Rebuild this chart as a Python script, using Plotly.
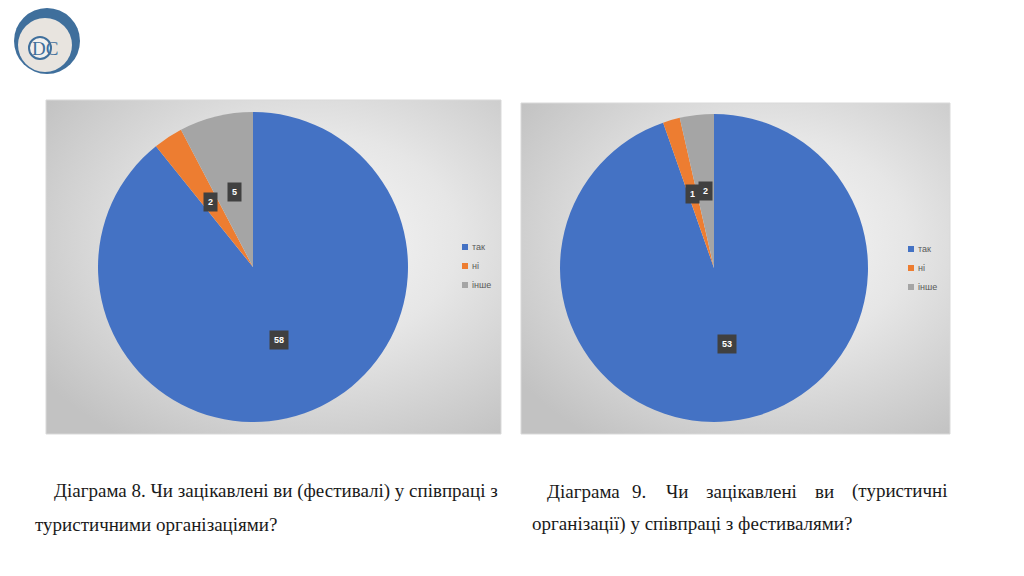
import base64, math
import plotly.graph_objects as go

# ---- data ----
categories = ["так", "ні", "інше"]
values_8 = [58, 2, 5]
values_9 = [53, 1, 2]
colors = ["#4472C4", "#ED7D31", "#A5A5A5"]
caption_8 = ["Діаграма 8. Чи зацікавлені ви (фестивалі) у співпраці з",
             "туристичними організаціями?"]
caption_9_line1 = ["Діаграма", "9.", "Чи", "зацікавлені", "ви", "(туристичні"]
caption_9_line2 = "організації) у співпраці з фестивалями?"

W, H = 1024, 576

def px(x):
    return x / W

def py(y):
    return 1 - y / H

# panels (pixel boxes) and pie geometry
panels = [dict(x0=46, y0=100, x1=501, y1=434), dict(x0=521, y0=103, x1=950, y1=434)]
pies = [dict(cx=253, cy=267, r=155, vals=values_8, lx=462, ly=247),
        dict(cx=714, cy=268, r=154, vals=values_9, lx=908, ly=249)]

def grad_uri(w, h):
    svg = (f"<svg xmlns='http://www.w3.org/2000/svg' width='{w}' height='{h}' viewBox='0 0 {w} {h}' preserveAspectRatio='none'>"
           "<defs><radialGradient id='g' cx='58%' cy='42%' r='72%'>"
           "<stop offset='0' stop-color='#f8f8f8'/><stop offset='0.45' stop-color='#e6e6e6'/>"
           "<stop offset='1' stop-color='#c2c2c2'/></radialGradient></defs>"
           "<rect width='100%' height='100%' fill='url(#g)'/></svg>")
    return "data:image/svg+xml;base64," + base64.b64encode(svg.encode()).decode()

fig = go.Figure()
images, shapes, annotations = [], [], []

for p in panels:
    w, h = p["x1"] - p["x0"], p["y1"] - p["y0"]
    images.append(dict(source=grad_uri(w, h), xref="paper", yref="paper",
                       x=px(p["x0"]), y=py(p["y0"]), sizex=w / W, sizey=h / H,
                       xanchor="left", yanchor="top", sizing="stretch", layer="below"))
    shapes.append(dict(type="rect", xref="paper", yref="paper", x0=px(p["x0"]), x1=px(p["x1"]),
                       y0=py(p["y1"]), y1=py(p["y0"]), line=dict(color="#d9d9d9", width=1),
                       fillcolor="rgba(0,0,0,0)", layer="below"))

for pie in pies:
    cx, cy, r, vals = pie["cx"], pie["cy"], pie["r"], pie["vals"]
    fig.add_trace(go.Pie(
        labels=categories, values=vals, sort=False, direction="clockwise", rotation=0,
        marker=dict(colors=colors, line=dict(width=0)), textinfo="none", hoverinfo="label+value",
        showlegend=False,
        domain=dict(x=[px(cx - r), px(cx + r)], y=[py(cy + r), py(cy - r)])))
    total = sum(vals)
    cum = 0
    for v in vals:
        mid = (cum + v / 2) / total * 2 * math.pi
        cum += v
        lx = cx + 0.5 * r * math.sin(mid)
        ly = cy - 0.5 * r * math.cos(mid)
        annotations.append(dict(x=px(lx), y=py(ly), xref="paper", yref="paper", text=f"<b>{v}</b>",
                                showarrow=False, bgcolor="#404040", borderpad=4,
                                xanchor="center", yanchor="middle",
                                font=dict(family="Arial", size=9, color="white")))
    # legend
    for i, c in enumerate(categories):
        yy = pie["ly"] + i * 19
        shapes.append(dict(type="rect", xref="paper", yref="paper",
                           x0=px(pie["lx"]), x1=px(pie["lx"] + 6), y0=py(yy + 3), y1=py(yy - 3),
                           fillcolor=colors[i], line=dict(width=0)))
        annotations.append(dict(x=px(pie["lx"] + 8), y=py(yy), xref="paper", yref="paper", text=c,
                                showarrow=False, xanchor="left", yanchor="middle",
                                font=dict(family="Liberation Sans", size=9, color="#595959")))

# logo
lc = (47, 41)
shapes.append(dict(type="circle", xref="paper", yref="paper", x0=px(lc[0] - 33), x1=px(lc[0] + 33),
                   y0=py(lc[1] + 33), y1=py(lc[1] - 33), fillcolor="#3f6f9c", line=dict(width=0)))
shapes.append(dict(type="circle", xref="paper", yref="paper", x0=px(lc[0] - 29), x1=px(lc[0] + 25),
                   y0=py(lc[1] + 31), y1=py(lc[1] - 23), fillcolor="#e8e4df", line=dict(width=0)))
shapes.append(dict(type="circle", xref="paper", yref="paper", x0=px(lc[0] - 18), x1=px(lc[0] + 4),
                   y0=py(lc[1] + 18), y1=py(lc[1] - 4), fillcolor="#f2f0ee",
                   line=dict(color="#3f6f9c", width=2)))
annotations.append(dict(x=px(lc[0] - 2), y=py(lc[1] + 7), xref="paper", yref="paper", text="DC",
                        showarrow=False, xanchor="center", yanchor="middle",
                        font=dict(family="Liberation Serif", size=19, color="#3f6f9c")))

# captions
cap_font = dict(family="Liberation Serif", size=19, color="#1a1a1a")
annotations.append(dict(x=px(52), y=py(491), xref="paper", yref="paper", text=caption_8[0],
                        showarrow=False, xanchor="left", yanchor="middle", font=cap_font))
annotations.append(dict(x=px(33), y=py(524), xref="paper", yref="paper", text=caption_8[1],
                        showarrow=False, xanchor="left", yanchor="middle", font=cap_font))
word_x = [545, 630, 664, 704, 813, 850]
for wx, word in zip(word_x, caption_9_line1):
    annotations.append(dict(x=px(wx), y=py(491), xref="paper", yref="paper", text=word,
                            showarrow=False, xanchor="left", yanchor="middle", font=cap_font))
annotations.append(dict(x=px(530), y=py(524), xref="paper", yref="paper", text=caption_9_line2,
                        showarrow=False, xanchor="left", yanchor="middle", font=cap_font))

fig.update_layout(width=W, height=H, margin=dict(l=0, r=0, t=0, b=0),
                  paper_bgcolor="white", plot_bgcolor="white",
                  images=images, shapes=shapes, annotations=annotations)
fig.write_html("out.html")
